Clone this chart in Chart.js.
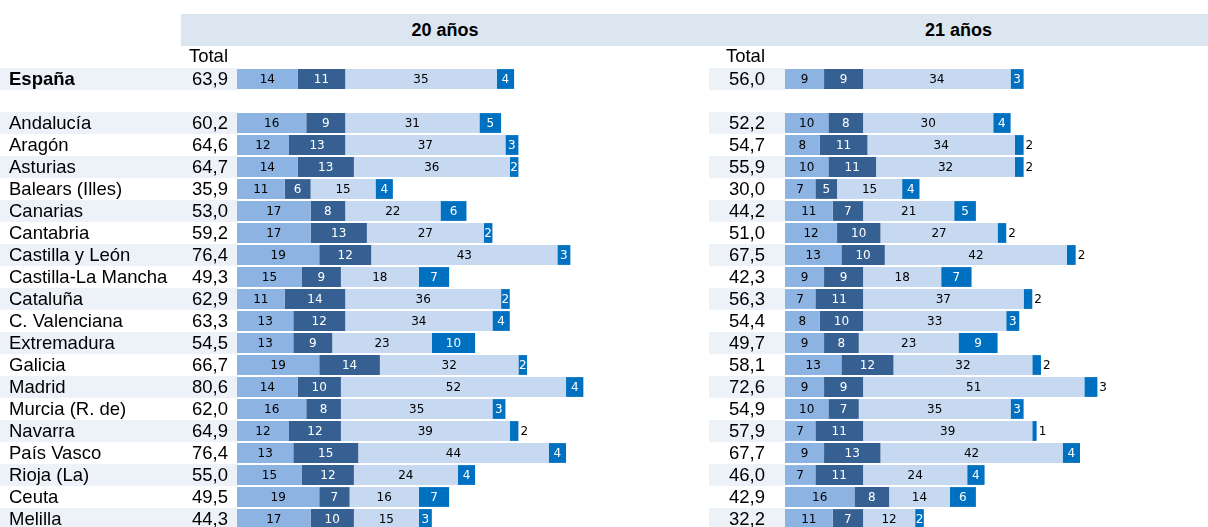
<!DOCTYPE html>
<html lang="es">
<head>
<meta charset="UTF-8">
<title>20 y 21 años</title>
<script src="https://cdn.jsdelivr.net/npm/chart.js@4"></script>
<style>
    body {
        margin: 0;
        width: 1208px;
        height: 527px;
        overflow: hidden;
        background: #fff;
        position: relative;
        font-family: "Liberation Sans", Arial, sans-serif;
    }
    .band {
        position: absolute;
        top: 14px;
        height: 32px;
        line-height: 32px;
        background: #dce6f1;
        font-weight: bold;
        font-size: 18px;
        text-align: center;
        color: #000;
    }
    canvas { position: absolute; top: 0; }
</style>
</head>
<body>
<div class="band" style="left:181px; width:528px;">20 años</div>
<div class="band" style="left:709px; width:499px;">21 años</div>
<canvas id="chart20" width="605" height="530" style="left:0;"></canvas>
<canvas id="chart21" width="603" height="530" style="left:605px;"></canvas>

<script>
// rows (the empty one is the gap under España)
const regions = ['España', '', 'Andalucía', 'Aragón', 'Asturias', 'Balears (Illes)', 'Canarias', 'Cantabria',
    'Castilla y León', 'Castilla-La Mancha', 'Cataluña', 'C. Valenciana', 'Extremadura', 'Galicia', 'Madrid',
    'Murcia (R. de)', 'Navarra', 'País Vasco', 'Rioja (La)', 'Ceuta', 'Melilla'];

// 20 años
const total20 = [63.9, null, 60.2, 64.6, 64.7, 35.9, 53.0, 59.2, 76.4, 49.3, 62.9, 63.3, 54.5, 66.7, 80.6, 62.0, 64.9, 76.4, 55.0, 49.5, 44.3];
const a20 = [14, null, 16, 12, 14, 11, 17, 17, 19, 15, 11, 13, 13, 19, 14, 16, 12, 13, 15, 19, 17];
const b20 = [11, null, 9, 13, 13, 6, 8, 13, 12, 9, 14, 12, 9, 14, 10, 8, 12, 15, 12, 7, 10];
const c20 = [35, null, 31, 37, 36, 15, 22, 27, 43, 18, 36, 34, 23, 32, 52, 35, 39, 44, 24, 16, 15];
const d20 = [4, null, 5, 3, 2, 4, 6, 2, 3, 7, 2, 4, 10, 2, 4, 3, 2, 4, 4, 7, 3];

// 21 años
const total21 = [56.0, null, 52.2, 54.7, 55.9, 30.0, 44.2, 51.0, 67.5, 42.3, 56.3, 54.4, 49.7, 58.1, 72.6, 54.9, 57.9, 67.7, 46.0, 42.9, 32.2];
const a21 = [9, null, 10, 8, 10, 7, 11, 12, 13, 9, 7, 8, 9, 13, 9, 10, 7, 9, 7, 16, 11];
const b21 = [9, null, 8, 11, 11, 5, 7, 10, 10, 9, 11, 10, 8, 12, 9, 7, 11, 13, 11, 8, 7];
const c21 = [34, null, 30, 34, 32, 15, 21, 27, 42, 18, 37, 33, 23, 32, 51, 35, 39, 42, 24, 14, 12];
const d21 = [3, null, 4, 2, 2, 4, 5, 2, 2, 7, 2, 3, 9, 2, 3, 3, 1, 4, 4, 6, 2];

// rows where the last label sits after the bar
const outside20 = ['Navarra'];
const outside21 = ['Aragón', 'Asturias', 'Cantabria', 'Castilla y León', 'Cataluña', 'Galicia', 'Madrid', 'Navarra'];

const colors = ['#8db3e2', '#366092', '#c6d9f1', '#0070c0'];
const labelColors = ['#000', '#fff', '#000', '#fff'];
const bigFont = '18.5px "Liberation Sans", Arial, sans-serif';
const smallFont = '12px "DejaVu Sans", Verdana, sans-serif';

function fmt(v) {
    return v.toFixed(1).replace('.', ',');
}

const panelPlugin = {
    id: 'panel',
    beforeDatasetsDraw(chart, args, o) {
        const ctx = chart.ctx;
        const y = chart.scales.y;
        const half = (y.getPixelForValue(1) - y.getPixelForValue(0)) / 2;
        ctx.save();
        // striped rows
        ctx.fillStyle = '#edf2f8';
        regions.forEach((r, i) => {
            if (i % 2) return;
            const cy = y.getPixelForValue(i);
            ctx.fillRect(o.stripeFrom, cy - half, o.stripeTo - o.stripeFrom, half * 2);
        });
        ctx.fillStyle = '#000';
        ctx.textBaseline = 'middle';
        ctx.font = bigFont;
        ctx.textAlign = 'right';
        ctx.fillText('Total', o.totalX, 57);
        o.totals.forEach((t, i) => {
            if (t === null) return;
            ctx.fillText(fmt(t), o.totalX, y.getPixelForValue(i) + 1);
        });
        if (o.names) {
            ctx.textAlign = 'left';
            regions.forEach((r, i) => {
                ctx.font = (i === 0 ? 'bold ' : '') + bigFont;
                ctx.fillText(r, 9, y.getPixelForValue(i) + 1);
            });
        }
        ctx.restore();
    },
    afterDatasetsDraw(chart, args, o) {
        const ctx = chart.ctx;
        ctx.save();
        ctx.font = smallFont;
        ctx.textBaseline = 'middle';
        chart.data.datasets.forEach((ds, di) => {
            const meta = chart.getDatasetMeta(di);
            meta.data.forEach((el, i) => {
                const v = ds.data[i];
                if (v === null) return;
                const p = el.getProps(['x', 'base', 'y'], true);
                if (di === 3 && o.outside.includes(regions[i])) {
                    ctx.fillStyle = '#000';
                    ctx.textAlign = 'left';
                    ctx.fillText(String(v), Math.max(p.x, p.base) + 2, p.y + 1);
                } else {
                    ctx.fillStyle = labelColors[di];
                    ctx.textAlign = 'center';
                    ctx.fillText(String(v), (p.x + p.base) / 2, p.y + 1);
                }
            });
        });
        ctx.restore();
    }
};

function makeChart(id, series, totals, panel, padLeft, xMax) {
    const datasets = series.map((data, i) => ({
        data: data,
        backgroundColor: colors[i],
        borderWidth: 0,
        barPercentage: 1,
        categoryPercentage: 0.9
    }));
    return new Chart(document.getElementById(id), {
        type: 'bar',
        data: { labels: regions, datasets: datasets },
        plugins: [panelPlugin],
        options: {
            indexAxis: 'y',
            responsive: false,
            animation: false,
            layout: { padding: { left: padLeft, top: 68, right: 0, bottom: 0 } },
            scales: {
                x: { stacked: true, display: false, min: 0, max: xMax },
                y: { stacked: true, display: false }
            },
            plugins: {
                legend: { display: false },
                tooltip: { enabled: false },
                panel: Object.assign({ totals: totals }, panel)
            }
        }
    });
}

makeChart('chart20', [a20, b20, c20, d20], total20,
    { names: true, totalX: 228, stripeFrom: 0, stripeTo: 237, outside: outside20 }, 237, 85);
makeChart('chart21', [a21, b21, c21, d21], total21,
    { names: false, totalX: 160, stripeFrom: 104, stripeTo: 180, outside: outside21 }, 180, 97.5);
</script>
</body>
</html>
